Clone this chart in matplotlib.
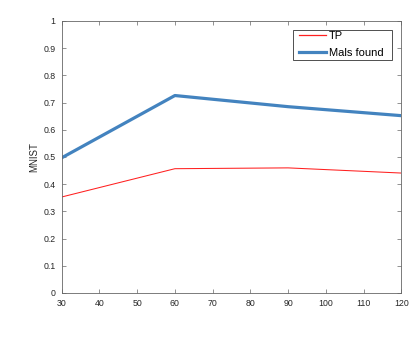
import matplotlib
matplotlib.use("Agg")
import matplotlib.pyplot as plt
from matplotlib.patches import Rectangle
from matplotlib.transforms import IdentityTransform

plt.rcParams['font.family'] = ['Liberation Sans', 'DejaVu Sans']

x = [30, 60, 90, 120]
tp = [0.353, 0.457, 0.460, 0.441]
mals_found = [0.497, 0.726, 0.685, 0.652]
xticks = [30, 40, 50, 60, 70, 80, 90, 100, 110, 120]
yticks = [0, 0.1, 0.2, 0.3, 0.4, 0.5, 0.6, 0.7, 0.8, 0.9, 1]
ytick_labels = ['0', '0.1', '0.2', '0.3', '0.4', '0.5', '0.6', '0.7', '0.8', '0.9', '1']

fig = plt.figure(figsize=(4.15, 3.4), dpi=100)
ax = fig.add_axes([61.7/415, 1 - 293/340, (401.3-61.7)/415, (293-21)/340])

ax.plot(x, tp, color='#ff2020', linewidth=0.75, label='TP')
ax.plot(x, mals_found, color='#4383bf', linewidth=2.3, label='Mals found')

ax.set_xlim(30, 120)
ax.set_ylim(0, 1)
ax.set_xticks(xticks)
ax.set_xticklabels([str(t) for t in xticks])
ax.set_yticks(yticks)
ax.set_yticklabels(ytick_labels)
ax.set_ylabel('MNIST', fontsize=7, color='#262626', labelpad=3)

gray = '#262626'
for s in ax.spines.values():
    s.set_color('#666666')
    s.set_linewidth(0.6)
ax.tick_params(axis='both', which='both', direction='in', top=True, right=True,
               length=3, width=0.5, colors='#666666', labelsize=6.3, labelcolor=gray)
ax.tick_params(axis='y', pad=4.5)
ax.tick_params(axis='x', pad=4)

leg = ax.legend(loc='upper right', bbox_to_anchor=(0.948, 0.963), fontsize=8,
                frameon=False, handlelength=2.45,
                handletextpad=0.25, borderpad=0.0, labelspacing=0.63, borderaxespad=0)
leg.set_zorder(6)
h = leg.get_lines()
h[0].set_color('#ff2020')
h[0].set_linewidth(0.9)
h[0].set_antialiased(True)

# frame drawn around the legend's computed extent, with MATLAB-like padding
fig.canvas.draw()
bb = leg.get_window_extent()
pad_l, pad_r, pad_t, pad_b = 5.7, 8.6, 1.5, 1.5
frame = Rectangle((bb.x0 - pad_l, bb.y0 - pad_b), bb.width + pad_l + pad_r,
                  bb.height + pad_t + pad_b, fill=True,
                  facecolor='white', edgecolor='#333333', linewidth=0.6, zorder=5)
ax.add_patch(frame)
frame.set_transform(IdentityTransform())

fig.savefig('out.png', dpi=100)
